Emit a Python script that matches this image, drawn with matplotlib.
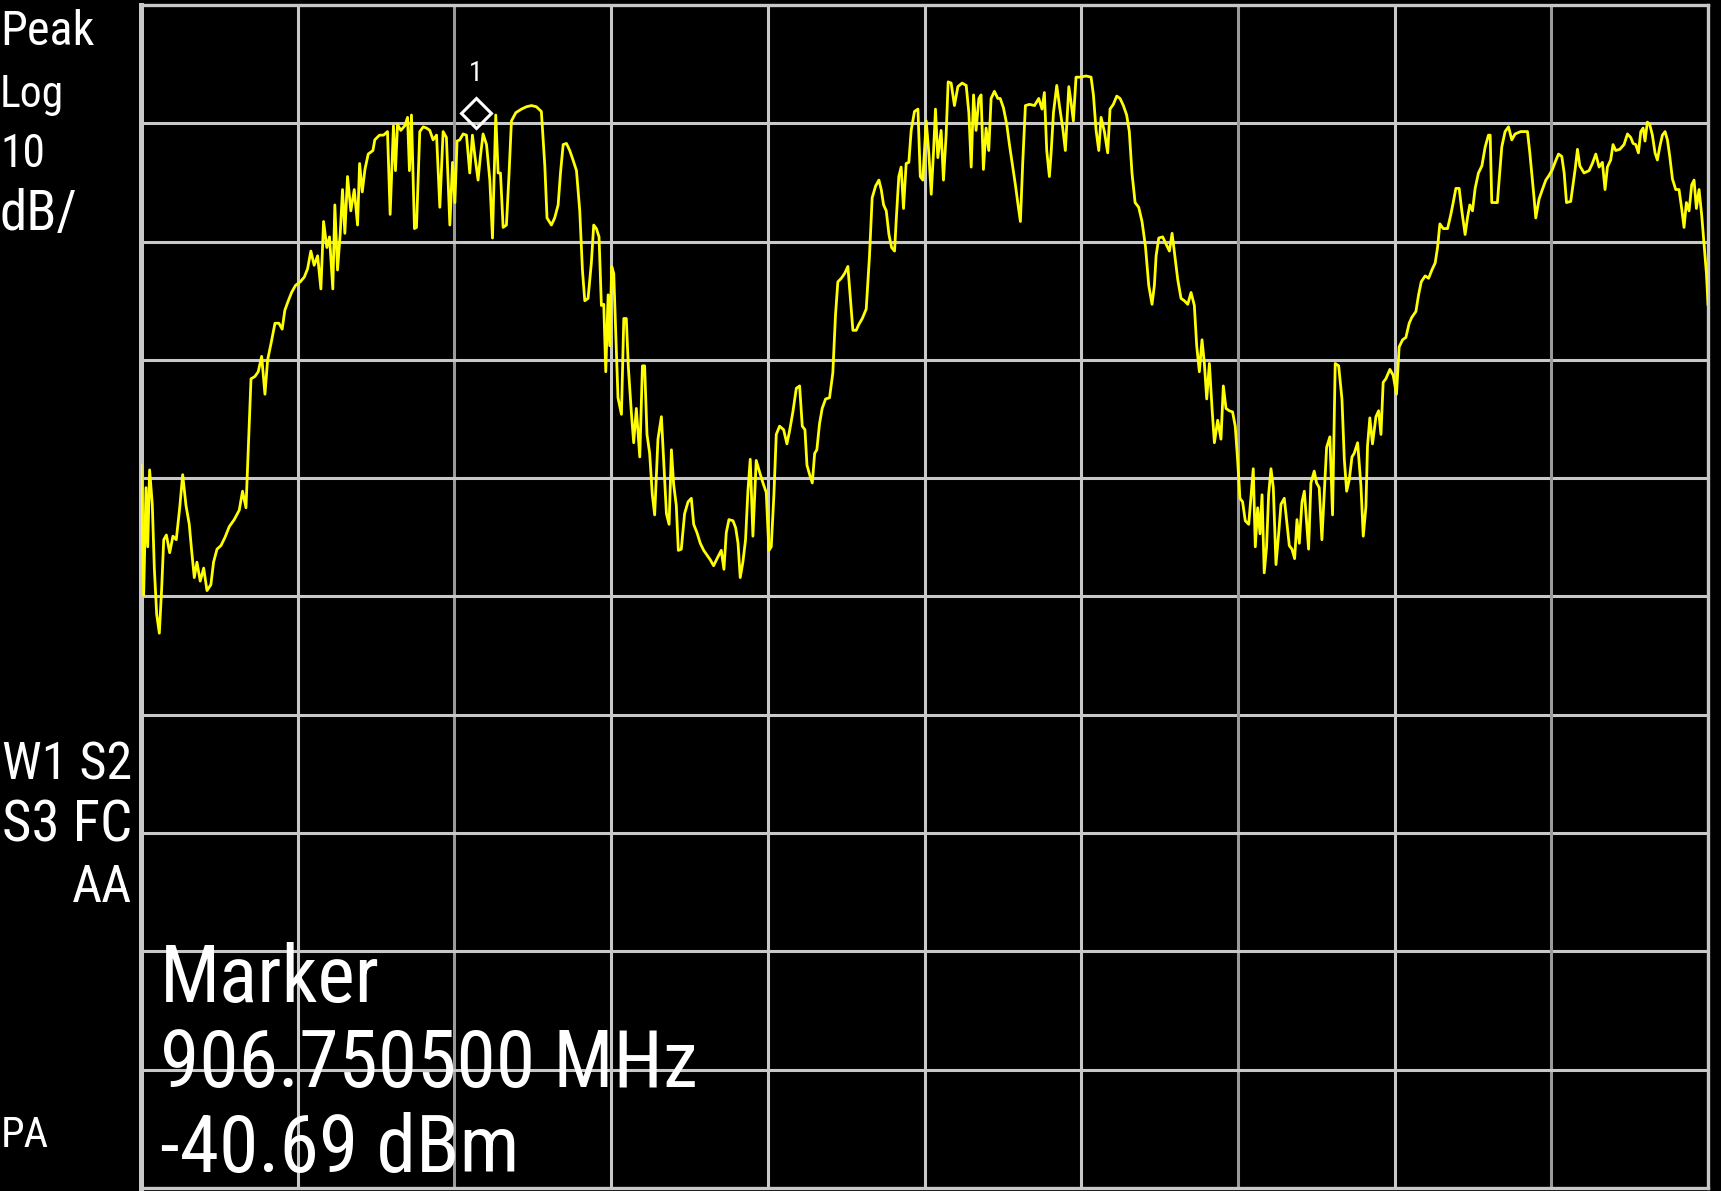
import numpy as np
import matplotlib
matplotlib.use("Agg")
import matplotlib.pyplot as plt
from matplotlib import font_manager
from matplotlib.transforms import offset_copy

# analyzer font is tall and narrow, take the first narrow family that is there
narrow_fonts = ['Liberation Sans Narrow', 'Arial Narrow', 'Roboto Condensed', 'Archivo Narrow',
                'PT Sans Narrow', 'Fira Sans Condensed', 'IBM Plex Sans Condensed',
                'Encode Sans Condensed', 'Open Sans Condensed', 'DejaVu Sans']
available = {f.name for f in font_manager.fontManager.ttflist}
font = next((f for f in narrow_fonts if f in available), 'DejaVu Sans')
plt.rcParams['font.family'] = [font, 'DejaVu Sans']

# trace: x in graticule divisions (0..10), y in dBm
seg1_div = [0.000, 0.017, 0.032, 0.043, 0.055, 0.072, 0.085, 0.100, 0.117, 0.132,
            0.145, 0.162, 0.183, 0.204, 0.225, 0.247, 0.266, 0.287, 0.308, 0.323,
            0.340, 0.357, 0.378, 0.400, 0.421, 0.446, 0.463, 0.485, 0.510, 0.536,
            0.563, 0.595, 0.627, 0.648, 0.670, 0.685, 0.702, 0.727, 0.748, 0.770,
            0.791, 0.808, 0.833, 0.855, 0.880, 0.901, 0.918, 0.940, 0.961, 0.986,
            1.016, 1.042, 1.063, 1.084, 1.105, 1.127, 1.148, 1.165, 1.186, 1.203,
            1.224, 1.237, 1.254, 1.271, 1.286, 1.301, 1.318, 1.339, 1.361, 1.382,
            1.395, 1.412, 1.429, 1.450, 1.480, 1.492, 1.522, 1.548, 1.573, 1.590,
            1.611, 1.624, 1.637, 1.658, 1.684, 1.701, 1.713]
seg1_dbm = [-68.9, -79.9, -70.8, -75.8, -69.3, -72.2, -77.6, -81.5, -83.1, -79.3,
            -75.2, -74.8, -76.3, -74.9, -75.2, -72.5, -69.7, -72.3, -73.9, -76.1,
            -78.4, -77.1, -78.7, -77.6, -79.5, -79.0, -77.1, -76.0, -75.7, -75.0,
            -74.1, -73.5, -72.7, -71.1, -72.5, -67.3, -61.6, -61.4, -61.0, -59.7,
            -62.9, -60.0, -58.4, -56.9, -56.9, -57.4, -55.8, -55.0, -54.3, -53.7,
            -53.4, -53.0, -52.3, -50.8, -52.0, -51.2, -54.0, -48.3, -50.5, -49.6,
            -54.0, -46.9, -52.4, -49.4, -45.6, -49.3, -44.5, -47.4, -45.6, -48.6,
            -43.4, -45.8, -43.9, -42.6, -42.3, -41.4, -41.0, -41.0, -40.7, -47.7,
            -40.2, -44.0, -40.1, -40.6, -40.2, -39.5, -44.0]

seg2_div = [1.726, 1.745, 1.758, 1.779, 1.801, 1.822, 1.843, 1.864, 1.886, 1.907,
            1.928, 1.949, 1.971, 1.988, 2.003, 2.017, 2.034, 2.056, 2.077, 2.098,
            2.115, 2.132, 2.151, 2.166, 2.183, 2.205, 2.226, 2.243, 2.264, 2.279,
            2.294, 2.311, 2.332, 2.349, 2.364, 2.392, 2.428, 2.460, 2.492, 2.523,
            2.555, 2.577, 2.591, 2.619, 2.640, 2.662, 2.677, 2.694, 2.715, 2.736,
            2.757, 2.779, 2.800, 2.817, 2.832, 2.853, 2.874, 2.889, 2.906, 2.923,
            2.938, 2.953, 2.966, 2.981, 2.991, 3.004, 3.017, 3.029, 3.044, 3.066,
            3.081, 3.097, 3.110, 3.129, 3.144, 3.161, 3.183, 3.200, 3.214, 3.229,
            3.246, 3.263, 3.278, 3.299, 3.321, 3.336, 3.353, 3.370, 3.385, 3.399,
            3.416, 3.429]
seg2_dbm = [-39.3, -48.9, -48.8, -40.7, -40.3, -40.4, -40.6, -41.4, -41.0, -47.1,
            -40.7, -41.2, -48.6, -43.3, -46.7, -41.5, -41.4, -40.9, -41.0, -44.2,
            -41.0, -42.9, -44.8, -42.8, -40.9, -41.8, -44.8, -49.7, -39.3, -44.2,
            -44.2, -48.8, -48.6, -44.2, -39.8, -39.1, -38.8, -38.6, -38.5, -38.6,
            -39.0, -43.6, -48.0, -48.6, -48.0, -46.9, -44.2, -41.8, -41.7, -42.3,
            -43.1, -44.0, -47.4, -52.4, -55.0, -54.8, -51.8, -48.6, -48.9, -49.6,
            -55.4, -55.3, -61.0, -54.5, -58.8, -52.1, -52.7, -57.5, -63.2, -64.6,
            -56.5, -56.5, -60.6, -64.4, -67.0, -64.1, -68.2, -60.5, -60.5, -66.3,
            -67.9, -71.4, -73.1, -66.7, -64.8, -68.6, -73.0, -73.9, -67.6, -70.5,
            -72.3, -76.1]

seg3_div = [3.448, 3.469, 3.491, 3.512, 3.527, 3.548, 3.569, 3.591, 3.612, 3.633,
            3.654, 3.676, 3.703, 3.720, 3.735, 3.752, 3.778, 3.795, 3.810, 3.824,
            3.841, 3.858, 3.873, 3.888, 3.905, 3.926, 3.948, 3.969, 3.990, 4.007,
            4.022, 4.039, 4.054, 4.075, 4.101, 4.122, 4.139, 4.160, 4.182, 4.203,
            4.220, 4.237, 4.250, 4.267, 4.284, 4.299, 4.313, 4.330, 4.347, 4.369,
            4.394, 4.415, 4.432, 4.447, 4.469, 4.490, 4.511, 4.526, 4.543, 4.564,
            4.581, 4.603, 4.628, 4.649, 4.666, 4.688, 4.709, 4.724, 4.739, 4.756,
            4.773, 4.790, 4.809, 4.819, 4.836, 4.851, 4.866, 4.883, 4.900, 4.915,
            4.936, 4.958, 4.973, 4.989, 5.011, 5.028, 5.043, 5.058, 5.070, 5.085,
            5.106, 5.121, 5.138, 5.151]
seg3_dbm = [-76.0, -73.0, -72.0, -71.7, -73.9, -74.6, -75.5, -76.1, -76.5, -76.9,
            -77.4, -76.8, -76.1, -77.7, -74.6, -73.5, -73.6, -74.2, -75.5, -78.4,
            -77.1, -75.2, -71.1, -68.4, -74.9, -68.5, -69.5, -70.4, -71.2, -76.1,
            -75.8, -71.4, -66.3, -65.6, -65.9, -67.1, -66.0, -64.4, -62.4, -62.2,
            -65.6, -65.9, -68.9, -69.7, -70.4, -67.9, -67.6, -65.4, -64.1, -63.3,
            -63.2, -61.1, -56.2, -53.4, -53.1, -52.7, -52.1, -54.6, -57.5, -57.5,
            -57.0, -56.5, -55.7, -51.2, -46.3, -45.3, -44.8, -45.6, -46.9, -47.4,
            -49.4, -50.5, -50.8, -48.3, -44.5, -43.7, -47.2, -43.4, -43.3, -40.6,
            -39.0, -38.8, -44.5, -44.8, -39.8, -42.6, -46.0, -42.3, -38.8, -42.9,
            -40.6, -44.8, -41.0, -36.5]

seg4_div = [5.170, 5.191, 5.213, 5.240, 5.266, 5.283, 5.298, 5.313, 5.329, 5.347,
            5.361, 5.376, 5.393, 5.410, 5.425, 5.446, 5.468, 5.483, 5.504, 5.525,
            5.542, 5.563, 5.580, 5.595, 5.612, 5.627, 5.644, 5.670, 5.702, 5.729,
            5.750, 5.765, 5.780, 5.797, 5.808, 5.823, 5.844, 5.861, 5.882, 5.899,
            5.921, 5.935, 5.950, 5.967, 5.993, 6.031, 6.063, 6.078, 6.095, 6.112,
            6.127, 6.148, 6.169, 6.184, 6.205, 6.227, 6.248, 6.269, 6.290, 6.307,
            6.324, 6.344, 6.367, 6.388, 6.410, 6.431, 6.452, 6.467, 6.478, 6.495,
            6.520, 6.541, 6.563, 6.580, 6.594, 6.616, 6.637, 6.658, 6.680, 6.701,
            6.722, 6.737, 6.754, 6.771, 6.786, 6.801, 6.818, 6.835, 6.850, 6.871]
seg4_dbm = [-36.6, -38.5, -36.9, -36.6, -36.8, -39.1, -43.7, -37.6, -40.6, -37.9,
            -37.6, -43.9, -40.4, -42.3, -37.9, -37.3, -37.9, -37.9, -38.7, -40.1,
            -41.8, -43.7, -45.2, -46.7, -48.3, -43.3, -38.5, -38.4, -38.5, -37.9,
            -38.8, -37.4, -42.3, -44.5, -42.5, -39.1, -36.8, -38.5, -40.4, -42.3,
            -36.9, -38.2, -39.8, -36.1, -36.1, -36.0, -36.1, -37.6, -40.6, -42.3,
            -39.5, -40.7, -42.5, -38.8, -38.4, -37.7, -37.9, -38.5, -39.3, -40.7,
            -44.2, -46.7, -47.1, -48.3, -50.4, -53.7, -55.3, -53.7, -51.2, -49.7,
            -49.6, -50.2, -50.8, -49.3, -50.8, -53.2, -54.8, -55.0, -55.3, -54.3,
            -55.4, -58.8, -61.0, -58.3, -60.3, -63.3, -60.3, -64.1, -67.0, -65.1]

seg5_div = [6.892, 6.907, 6.924, 6.945, 6.966, 6.983, 6.998, 7.013, 7.030, 7.047,
            7.069, 7.083, 7.098, 7.111, 7.126, 7.141, 7.154, 7.168, 7.183, 7.196,
            7.211, 7.226, 7.243, 7.260, 7.275, 7.296, 7.311, 7.328, 7.345, 7.362,
            7.377, 7.392, 7.409, 7.424, 7.438, 7.451, 7.466, 7.487, 7.502, 7.519,
            7.536, 7.553, 7.566, 7.587, 7.604, 7.621, 7.643, 7.664, 7.679, 7.694,
            7.711, 7.728, 7.742, 7.764, 7.785, 7.800, 7.817, 7.827, 7.842, 7.859,
            7.881, 7.898, 7.913, 7.927, 7.944, 7.970, 7.991, 8.012, 8.029, 8.051,
            8.072, 8.093, 8.110, 8.136, 8.153, 8.170, 8.195, 8.217, 8.238, 8.259,
            8.274, 8.289, 8.310, 8.338, 8.359, 8.374, 8.391, 8.412, 8.429, 8.450,
            8.465, 8.480, 8.497, 8.514, 8.535, 8.557, 8.578, 8.599]
seg5_dbm = [-66.7, -62.2, -64.1, -64.3, -64.4, -65.6, -68.4, -71.7, -72.0, -73.6,
            -73.9, -71.6, -69.2, -75.8, -72.5, -74.7, -71.4, -78.0, -75.8, -71.4,
            -69.2, -70.8, -77.3, -74.7, -72.2, -71.7, -73.6, -75.7, -76.0, -76.8,
            -73.5, -75.5, -72.0, -71.1, -73.6, -76.0, -70.4, -69.4, -70.4, -70.8,
            -75.2, -70.8, -67.4, -66.5, -73.1, -60.3, -60.5, -63.3, -68.4, -71.1,
            -70.1, -68.2, -67.9, -67.0, -70.6, -74.9, -72.4, -67.3, -64.9, -67.1,
            -64.8, -64.3, -66.3, -61.9, -61.6, -60.8, -61.3, -62.9, -58.9, -58.3,
            -58.1, -56.9, -56.4, -55.9, -54.5, -53.4, -52.9, -53.1, -52.4, -51.8,
            -50.5, -48.5, -48.9, -48.9, -47.7, -46.7, -45.5, -45.5, -47.4, -49.4,
            -48.0, -46.9, -47.4, -45.5, -44.2, -43.6, -42.0, -41.0]

seg6_div = [8.610, 8.620, 8.656, 8.667, 8.684, 8.705, 8.727, 8.748, 8.769, 8.805,
            8.848, 8.863, 8.875, 8.890, 8.901, 8.922, 8.943, 8.965, 8.986, 9.007,
            9.024, 9.046, 9.067, 9.082, 9.097, 9.124, 9.152, 9.167, 9.182, 9.209,
            9.241, 9.262, 9.284, 9.305, 9.326, 9.343, 9.358, 9.379, 9.394, 9.411,
            9.437, 9.464, 9.486, 9.507, 9.522, 9.539, 9.556, 9.571, 9.586, 9.598,
            9.613, 9.628, 9.645, 9.662, 9.677, 9.692, 9.709, 9.726, 9.741, 9.756,
            9.773, 9.794, 9.815, 9.832, 9.847, 9.862, 9.879, 9.896, 9.911, 9.926,
            9.943, 9.960, 9.975, 9.990, 10.000]
seg6_dbm = [-41.0, -46.7, -46.7, -44.8, -42.0, -40.7, -40.3, -41.4, -40.9, -40.7,
            -40.7, -42.5, -44.2, -46.3, -48.0, -46.4, -45.6, -44.8, -44.4, -43.9,
            -43.3, -42.6, -42.8, -44.2, -46.7, -46.6, -43.9, -42.2, -43.6, -44.2,
            -44.0, -43.4, -42.6, -43.7, -43.3, -45.6, -43.7, -43.1, -41.8, -42.3,
            -42.2, -41.8, -40.9, -41.2, -41.7, -41.8, -42.5, -40.7, -40.4, -41.5,
            -39.9, -40.1, -41.0, -42.5, -43.1, -42.0, -41.0, -40.7, -41.4, -42.8,
            -44.7, -45.6, -45.6, -47.2, -48.8, -46.7, -47.4, -45.2, -44.8, -47.2,
            -45.6, -47.8, -50.2, -52.7, -55.3]

ref_level = -30.0       # dBm, top line
db_per_div = 10.0
marker_div = 2.136
marker_dbm = -40.69
marker_label = "1"
marker_lines = ["Marker", "906.750500 MHz", "-40.69 dBm"]

# side annotations: text, x px, baseline px, align, width px on screen
left_info = [("Peak", 0, 45, "left", 94), ("Log", 0, 107, "left", 64),
             ("10", 0, 167, "left", 45), ("dB/", 0, 230, "left", 78),
             ("W1 S2", 132, 780, "right", 130), ("S3 FC", 132, 842, "right", 130),
             ("AA", 132, 902, "right", 60), ("PA", 49, 1147, "right", 48)]

W, H = 1721, 1191
fig = plt.figure(figsize=(W / 100, H / 100), dpi=100, facecolor="black")
ax = fig.add_axes([141 / W, 3 / H, (1708 - 141) / W, (1188 - 5) / H])
ax.set_facecolor("black")

bottom = ref_level - 10 * db_per_div
ax.set_xlim(0, 10)
ax.set_ylim(bottom, ref_level)
ax.set_xticks([])
ax.set_yticks([])

grid_c = "#c8c8c8"
for i in range(1, 10):
    c = "#9a9a9a" if i in (2, 7, 9) else grid_c
    ax.axvline(i, color=c, lw=2.2, zorder=1)
    ax.axhline(ref_level - i * db_per_div, color=grid_c, lw=2.2, zorder=1)
for name, sp in ax.spines.items():
    sp.set_color(grid_c)
    sp.set_linewidth(2.4)
ax.spines["left"].set_linewidth(3.6)

trace_div = np.concatenate([seg1_div, seg2_div, seg3_div, seg4_div, seg5_div, seg6_div])
trace_dbm = np.concatenate([seg1_dbm, seg2_dbm, seg3_dbm, seg4_dbm, seg5_dbm, seg6_dbm])
ax.plot(trace_div, trace_dbm, color="#ffff00", lw=2.0, zorder=3)

# marker diamond sits just above the marked point
up = offset_copy(ax.transData, fig=fig, x=0, y=18, units="dots")
ax.plot([marker_div], [marker_dbm], marker="D", ms=15, mfc="none", mec="white",
        mew=2.2, transform=up, zorder=4, clip_on=False)
ax.annotate(marker_label, (marker_div, marker_dbm), xytext=(0, 42), textcoords="offset points",
            color="white", fontsize=20, ha="center", va="center", zorder=4)

renderer = fig.canvas.get_renderer()


def fit_width(t, width_px):
    w = t.get_window_extent(renderer).width
    t.set_fontsize(t.get_fontsize() * width_px / w)


for txt, x, y, ha, wpx in left_info:
    t = fig.text(x / W, 1 - y / H, txt, color="white", fontsize=38, ha=ha, va="baseline")
    fit_width(t, wpx)

big = [fig.text(160 / W, 1 - yb / H, s, color="white", fontsize=59, va="baseline")
       for s, yb in zip(marker_lines, [1002, 1087, 1172])]
fit_width(big[1], 538)
for t in big:
    t.set_fontsize(big[1].get_fontsize())

fig.savefig("out.png", dpi=100, facecolor="black")
